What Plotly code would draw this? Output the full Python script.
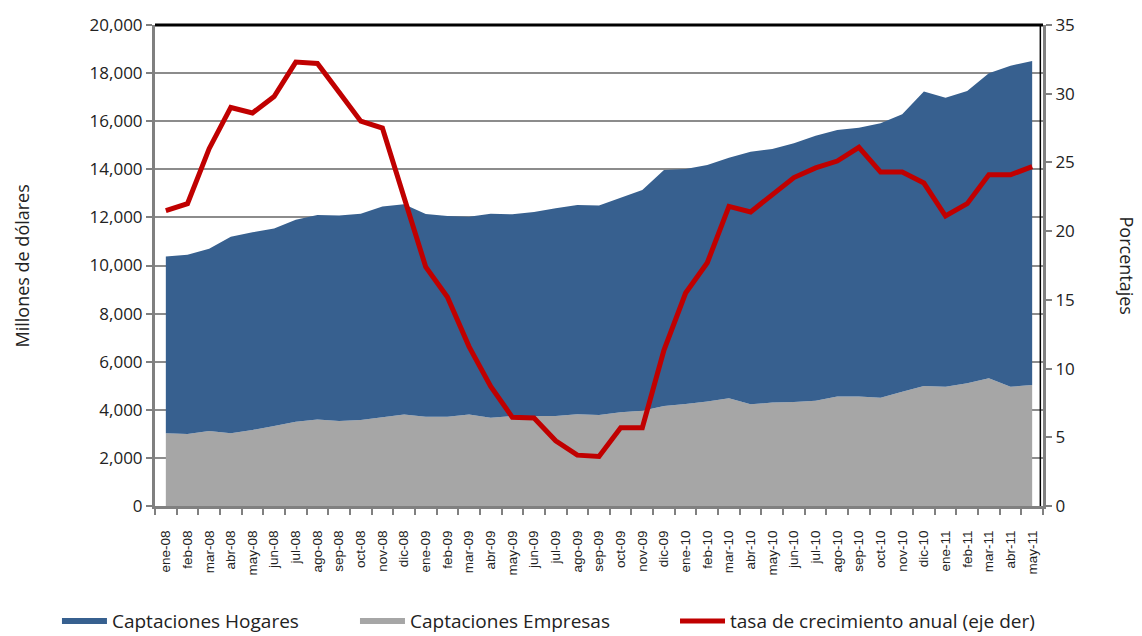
import plotly.graph_objects as go

meses = ["ene-08","feb-08","mar-08","abr-08","may-08","jun-08","jul-08","ago-08","sep-08","oct-08","nov-08","dic-08",
         "ene-09","feb-09","mar-09","abr-09","may-09","jun-09","jul-09","ago-09","sep-09","oct-09","nov-09","dic-09",
         "ene-10","feb-10","mar-10","abr-10","may-10","jun-10","jul-10","ago-10","sep-10","oct-10","nov-10","dic-10",
         "ene-11","feb-11","mar-11","abr-11","may-11"]

empresas = [3020, 2990, 3120, 3020, 3160, 3330, 3500, 3600, 3530, 3580, 3690, 3800,
            3710, 3710, 3800, 3670, 3740, 3740, 3740, 3810, 3780, 3900, 3960, 4160,
            4240, 4340, 4480, 4230, 4300, 4320, 4380, 4550, 4550, 4500, 4750, 4990,
            4960, 5100, 5310, 4960, 5030]

hogares = [7350, 7460, 7580, 8180, 8220, 8210, 8400, 8500, 8550, 8570, 8760, 8750,
           8430, 8350, 8230, 8480, 8390, 8480, 8640, 8710, 8710, 8920, 9180, 9810,
           9770, 9840, 10000, 10500, 10540, 10760, 11020, 11080, 11180, 11410, 11540, 12240,
           12020, 12160, 12680, 13350, 13470]

tasa = [21.5, 22.0, 26.0, 29.0, 28.6, 29.8, 32.3, 32.2, 30.1, 28.0, 27.5, 22.3,
        17.4, 15.2, 11.6, 8.7, 6.45, 6.4, 4.75, 3.7, 3.6, 5.7, 5.7, 11.35,
        15.5, 17.7, 21.8, 21.4, 22.7, 23.9, 24.6, 25.1, 26.1, 24.3, 24.3, 23.5,
        21.1, 22.0, 24.1, 24.1, 24.7]

y_left_ticks = [0, 2000, 4000, 6000, 8000, 10000, 12000, 14000, 16000, 18000, 20000]
y_right_ticks = [0, 5, 10, 15, 20, 25, 30, 35]

BLUE = "#37608F"
GRAY = "#A6A6A6"
RED = "#C00000"
AXGRAY = "#808080"

fig = go.Figure()
fig.add_trace(go.Scatter(x=meses, y=empresas, name="Captaciones Empresas", stackgroup="one",
                         mode="none", fillcolor=GRAY, legend="legend2"))
fig.add_trace(go.Scatter(x=meses, y=hogares, name="Captaciones Hogares", stackgroup="one",
                         mode="none", fillcolor=BLUE, legend="legend"))
fig.add_trace(go.Scatter(x=meses, y=tasa, name="tasa de crecimiento anual (eje der)", yaxis="y2",
                         mode="lines", line=dict(color=RED, width=5), legend="legend3"))

leg_common = dict(orientation="h", xanchor="left", y=-0.2, yanchor="top",
                  font=dict(size=19, family="Open Sans, sans-serif", color="#222222"),
                  itemwidth=45, bgcolor="rgba(0,0,0,0)")

fig.update_layout(
    width=1134, height=628,
    margin=dict(l=147, r=99, t=17, b=130, autoexpand=False),
    paper_bgcolor="white", plot_bgcolor="white",
    font=dict(family="Open Sans, Noto Sans, sans-serif", color="#222222"),
    showlegend=True,
    legend=dict(x=-0.1104, **leg_common),
    legend2=dict(x=0.2252, **leg_common),
    legend3=dict(x=0.5856, **leg_common),
    xaxis=dict(type="category", range=[-0.5, 40.5], tickangle=-90, automargin=False,
               tickfont=dict(size=13.5, family="Liberation Sans, Arial, sans-serif", color="#222222"),
               ticks="outside", tickson="boundaries", ticklen=6, tickcolor=AXGRAY, tickwidth=2,
               ticklabelstandoff=16,
               showline=True, linecolor=AXGRAY, linewidth=3, showgrid=False),
    yaxis=dict(range=[0, 20000], tickvals=y_left_ticks, tickformat=",d", automargin=False,
               tickfont=dict(size=17), ticks="outside", ticklen=6, tickcolor=AXGRAY, tickwidth=2,
               showline=True, linecolor=AXGRAY, linewidth=3,
               showgrid=True, gridcolor="#8C8C8C", gridwidth=2, zeroline=False),
    yaxis2=dict(range=[0, 35], tickvals=y_right_ticks, overlaying="y", side="right", automargin=False,
                tickfont=dict(size=17), ticks="outside", ticklen=6, tickcolor=AXGRAY, tickwidth=2,
                showline=True, linecolor=AXGRAY, linewidth=3, showgrid=False, zeroline=False),
    shapes=[
        dict(type="line", xref="paper", yref="paper", x0=0, x1=1, y0=1, y1=1,
             line=dict(color="black", width=3), layer="above"),
        dict(type="line", xref="paper", yref="paper", x0=0.997, x1=0.997, y0=0, y1=1,
             line=dict(color="black", width=1.5), layer="above"),
    ],
    annotations=[
        dict(text="Millones de dólares", xref="paper", yref="paper", x=-0.1498, y=0.5,
             textangle=-90, showarrow=False, font=dict(size=18), xanchor="center", yanchor="middle"),
        dict(text="Porcentajes", xref="paper", yref="paper", x=1.0946, y=0.5,
             textangle=90, showarrow=False, font=dict(size=18), xanchor="center", yanchor="middle"),
    ],
)

fig.write_html("out.html")
